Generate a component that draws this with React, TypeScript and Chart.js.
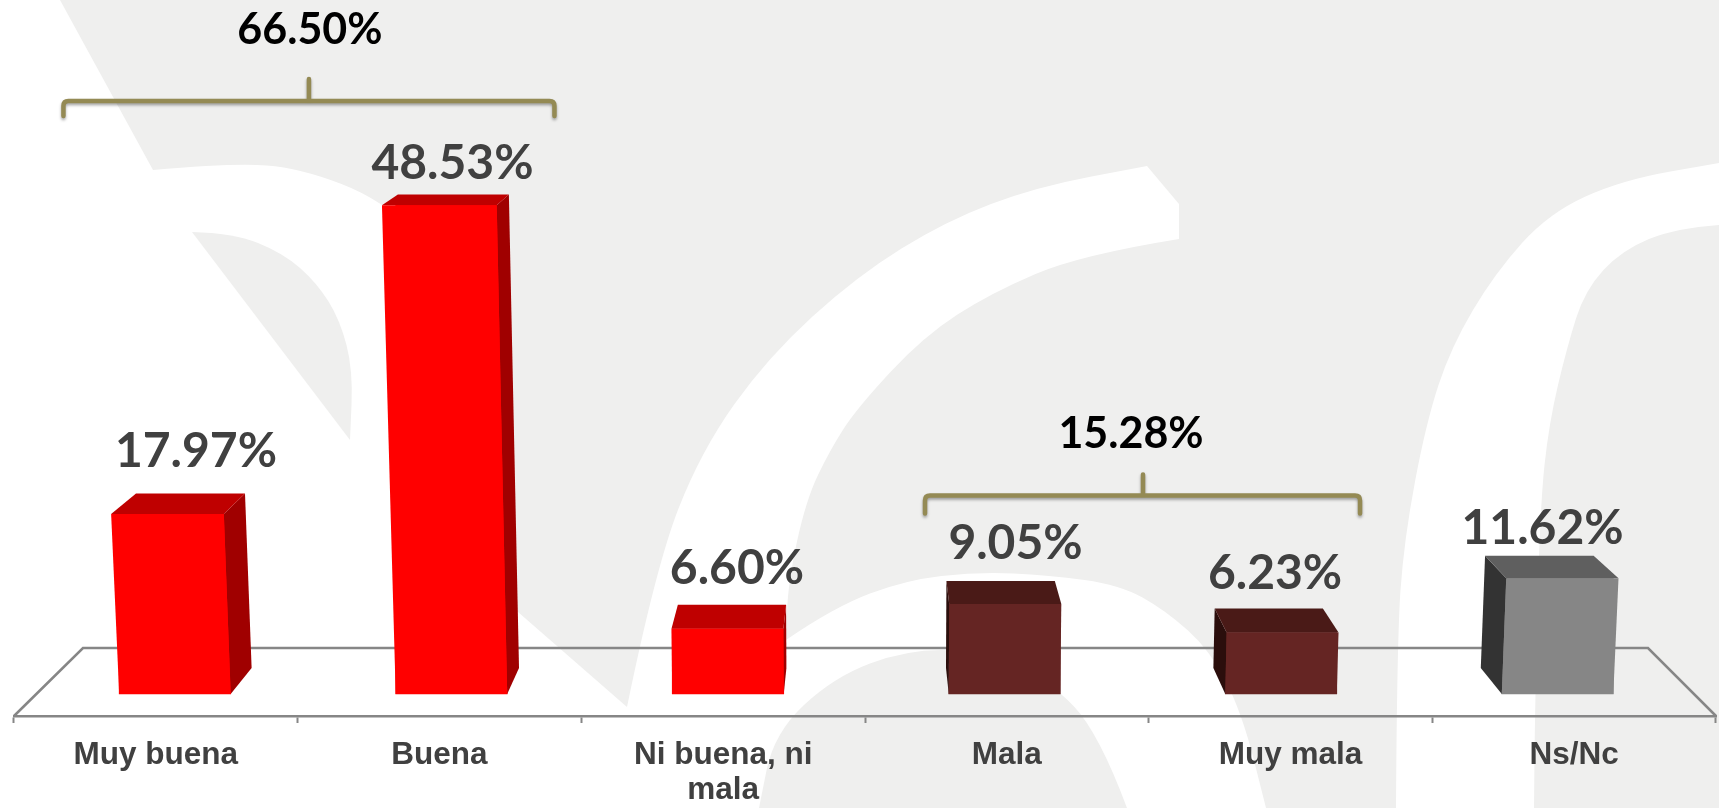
import React, { useEffect, useRef } from "react";
import { Chart, registerables } from "chart.js";

Chart.register(...registerables);

const categories = [["Muy buena"], ["Buena"], ["Ni buena, ni", "mala"], ["Mala"], ["Muy mala"], ["Ns/Nc"]];
const values = [17.97, 48.53, 6.6, 9.05, 6.23, 11.62];
const groupTotals = [66.5, 15.28];

const frontColors = ["#FF0000", "#FF0000", "#FF0000", "#652523", "#652523", "#868686"];
const topColors = ["#BF0000", "#BF0000", "#BF0000", "#4A1A17", "#4A1A17", "#5F5F5F"];
const sideColors = ["#A00000", "#A00000", "#A00000", "#2B0E0C", "#2B0E0C", "#333333"];

const labelOffsetX = [21, 1, 9, 11, -6, -15];
const labelOffsetY = [27, 15, 21, 22, 19, 12];

const WIDTH = 1719;
const HEIGHT = 808;
const GRAY = "#EFEFEE";
const AXIS = "#868686";
const TEXT = "#404040";
const BRACKET = "#948A54";

const curve = (ctx: any, pts: number[][]) => {
  ctx.lineTo(pts[0][0], pts[0][1]);
  for (let i = 1; i < pts.length - 1; i++) {
    const mx = (pts[i][0] + pts[i + 1][0]) / 2;
    const my = (pts[i][1] + pts[i + 1][1]) / 2;
    ctx.quadraticCurveTo(pts[i][0], pts[i][1], mx, my);
  }
  const last = pts[pts.length - 1];
  ctx.lineTo(last[0], last[1]);
};

const watermark = {
  id: "watermark",
  beforeDraw(chart: any) {
    const ctx = chart.ctx;
    ctx.save();
    ctx.fillStyle = GRAY;
    ctx.fillRect(0, 0, WIDTH, HEIGHT);
    ctx.fillStyle = "#FFFFFF";
    ctx.beginPath();
    ctx.moveTo(0, 0);
    ctx.lineTo(60, 0);
    curve(ctx, [[153, 170], [233, 163], [300, 168], [383, 200], [440, 260]]);
    ctx.lineTo(510, 605);
    curve(ctx, [[627, 707], [656, 566], [701, 451], [768, 357], [857, 276], [946, 221], [1036, 187], [1147, 166]]);
    curve(ctx, [[1179, 204], [1179, 239]]);
    curve(ctx, [[1179, 239], [1080, 255], [991, 293], [924, 336], [857, 408], [830, 450], [806, 500], [788, 583], [786, 640]]);
    curve(ctx, [[786, 640], [834, 607], [906, 580], [977, 572], [1049, 575], [1120, 585], [1165, 610], [1210, 650], [1242, 713], [1266, 808]]);
    ctx.lineTo(1127, 808);
    curve(ctx, [[1127, 808], [1099, 733], [1049, 680], [977, 650], [906, 650], [834, 677], [774, 733], [759, 808]]);
    ctx.lineTo(0, 808);
    ctx.closePath();
    ctx.fill();

    ctx.beginPath();
    ctx.moveTo(1396, 808);
    curve(ctx, [[1396, 808], [1397, 640], [1404, 540], [1426, 423], [1451, 347], [1495, 273], [1549, 213], [1622, 180], [1719, 163]]);
    ctx.lineTo(1719, 225);
    curve(ctx, [[1719, 225], [1676, 228], [1622, 250], [1585, 290], [1567, 347], [1549, 423], [1540, 507], [1535, 707], [1534, 808]]);
    ctx.closePath();
    ctx.fill();

    ctx.fillStyle = GRAY;
    ctx.beginPath();
    ctx.moveTo(192, 232);
    curve(ctx, [[192, 232], [233, 233], [283, 253], [317, 283], [340, 320], [353, 370], [350, 440]]);
    ctx.closePath();
    ctx.fill();
    ctx.restore();
  },
  beforeDatasetsDraw(chart: any) {
    const ctx = chart.ctx;
    const { left, right, bottom } = chart.chartArea;
    ctx.save();
    ctx.strokeStyle = AXIS;
    ctx.lineWidth = 2.5;
    ctx.beginPath();
    ctx.moveTo(left, bottom);
    ctx.lineTo(left + 69, bottom - 68);
    ctx.lineTo(right - 68, bottom - 68);
    ctx.lineTo(right, bottom);
    ctx.stroke();
    ctx.restore();
  },
};

const drawBracket = (ctx: any, x0: number, x1: number, xp: number, y: number, rise: number, drop: number) => {
  ctx.save();
  ctx.strokeStyle = BRACKET;
  ctx.lineWidth = 4.5;
  ctx.lineJoin = "round";
  ctx.lineCap = "round";
  ctx.shadowColor = "rgba(0,0,0,0.35)";
  ctx.shadowBlur = 3;
  ctx.shadowOffsetY = 2;
  ctx.beginPath();
  ctx.moveTo(x0, y + drop);
  ctx.lineTo(x0, y + 5);
  ctx.quadraticCurveTo(x0, y, x0 + 5, y);
  ctx.lineTo(x1 - 5, y);
  ctx.quadraticCurveTo(x1, y, x1, y + 5);
  ctx.lineTo(x1, y + drop);
  ctx.moveTo(xp, y);
  ctx.lineTo(xp, y - rise);
  ctx.stroke();
  ctx.restore();
};

const bars3d = {
  id: "bars3d",
  afterDatasetsDraw(chart: any) {
    const ctx = chart.ctx;
    const meta = chart.getDatasetMeta(0);
    const c = (chart.chartArea.left + chart.chartArea.right) / 2;
    const spread = (x: number, h: number) => x + (x - c) * h * 6e-5;
    const back = (x: number, y: number, h: number) => [c + (x - c) * 0.967, y - (26 - h * 0.031)];
    const quad = (pts: number[][], color: string) => {
      ctx.fillStyle = color;
      ctx.beginPath();
      pts.forEach((p, i) => (i ? ctx.lineTo(p[0], p[1]) : ctx.moveTo(p[0], p[1])));
      ctx.closePath();
      ctx.fill();
    };
    meta.data.forEach((el: any, i: number) => {
      const h = el.base - el.y;
      const l = el.x - el.width / 2;
      const r = el.x + el.width / 2;
      const tl = [spread(l, h), el.y];
      const tr = [spread(r, h), el.y];
      const bl = [l, el.base];
      const br = [r, el.base];
      const btl = back(tl[0], el.y, h);
      const btr = back(tr[0], el.y, h);
      const bbl = back(l, el.base, 0);
      const bbr = back(r, el.base, 0);
      if (el.x < c) quad([tr, btr, bbr, br], sideColors[i]);
      else quad([tl, btl, bbl, bl], sideColors[i]);
      quad([tl, tr, btr, btl], topColors[i]);
      quad([tl, tr, br, bl], frontColors[i]);

      ctx.save();
      ctx.fillStyle = TEXT;
      ctx.font = 'bold 48px Lato';
      ctx.textAlign = "center";
      ctx.textBaseline = "alphabetic";
      ctx.fillText(values[i].toFixed(2) + "%", el.x + labelOffsetX[i], btl[1] - labelOffsetY[i]);
      ctx.restore();
    });

    const cx = meta.data.map((el: any) => el.x);
    drawBracket(ctx, cx[0] - 111.5, cx[1] + 103, cx[0] + 134, 101, 22, 15);
    drawBracket(ctx, cx[3] - 79.5, cx[4] + 79, cx[3] + 138.5, 495.5, 21, 18);
    ctx.save();
    ctx.fillStyle = "#000000";
    ctx.font = 'bold 43px Lato';
    ctx.textAlign = "center";
    ctx.fillText(groupTotals[0].toFixed(2) + "%", cx[0] + 135, 44);
    ctx.fillText(groupTotals[1].toFixed(2) + "%", cx[3] + 126.5, 448);
    ctx.restore();
  },
};

export default function App() {
  const ref = useRef<HTMLCanvasElement>(null);
  useEffect(() => {
    document.body.style.margin = "0";
    const chart = new Chart(ref.current as HTMLCanvasElement, {
      type: "bar",
      data: {
        labels: categories as any,
        datasets: [
          {
            data: values.map((v, i) => ({ x: i, y: v })) as any,
            xAxisID: "xb",
            yAxisID: "y",
            backgroundColor: frontColors,
            borderWidth: 0,
            barThickness: 111.5,
            base: 0.15,
          },
        ],
      },
      options: {
        responsive: false,
        animation: false,
        layout: { padding: { left: 14, right: 3, top: 0, bottom: 0 } },
        plugins: { legend: { display: false }, tooltip: { enabled: false } },
        scales: {
          x: {
            type: "category",
            position: "bottom",
            offset: true,
            afterFit: (s: any) => {
              s.height = 92;
            },
            border: { display: true, color: AXIS, width: 2.5 },
            grid: {
              offset: true,
              drawOnChartArea: false,
              drawTicks: true,
              tickLength: 7,
              tickColor: AXIS,
              tickWidth: 2,
            },
            ticks: {
              autoSkip: false,
              maxRotation: 0,
              minRotation: 0,
              padding: 15,
              color: TEXT,
              font: { family: "'Liberation Sans'", size: 31.5, weight: "bold", lineHeight: 1.11 },
            },
          },
          xb: { type: "linear", display: false, position: "bottom", offset: false, grid: { offset: false }, min: -0.582, max: 5.573 },
          y: { type: "linear", display: false, min: -2.03, max: 68.86 },
        },
      } as any,
      plugins: [watermark, bars3d],
    });
    return () => chart.destroy();
  }, []);
  return (
    <canvas ref={ref} width={WIDTH} height={HEIGHT} style={{ display: "block", width: WIDTH, height: HEIGHT }} />
  );
}
